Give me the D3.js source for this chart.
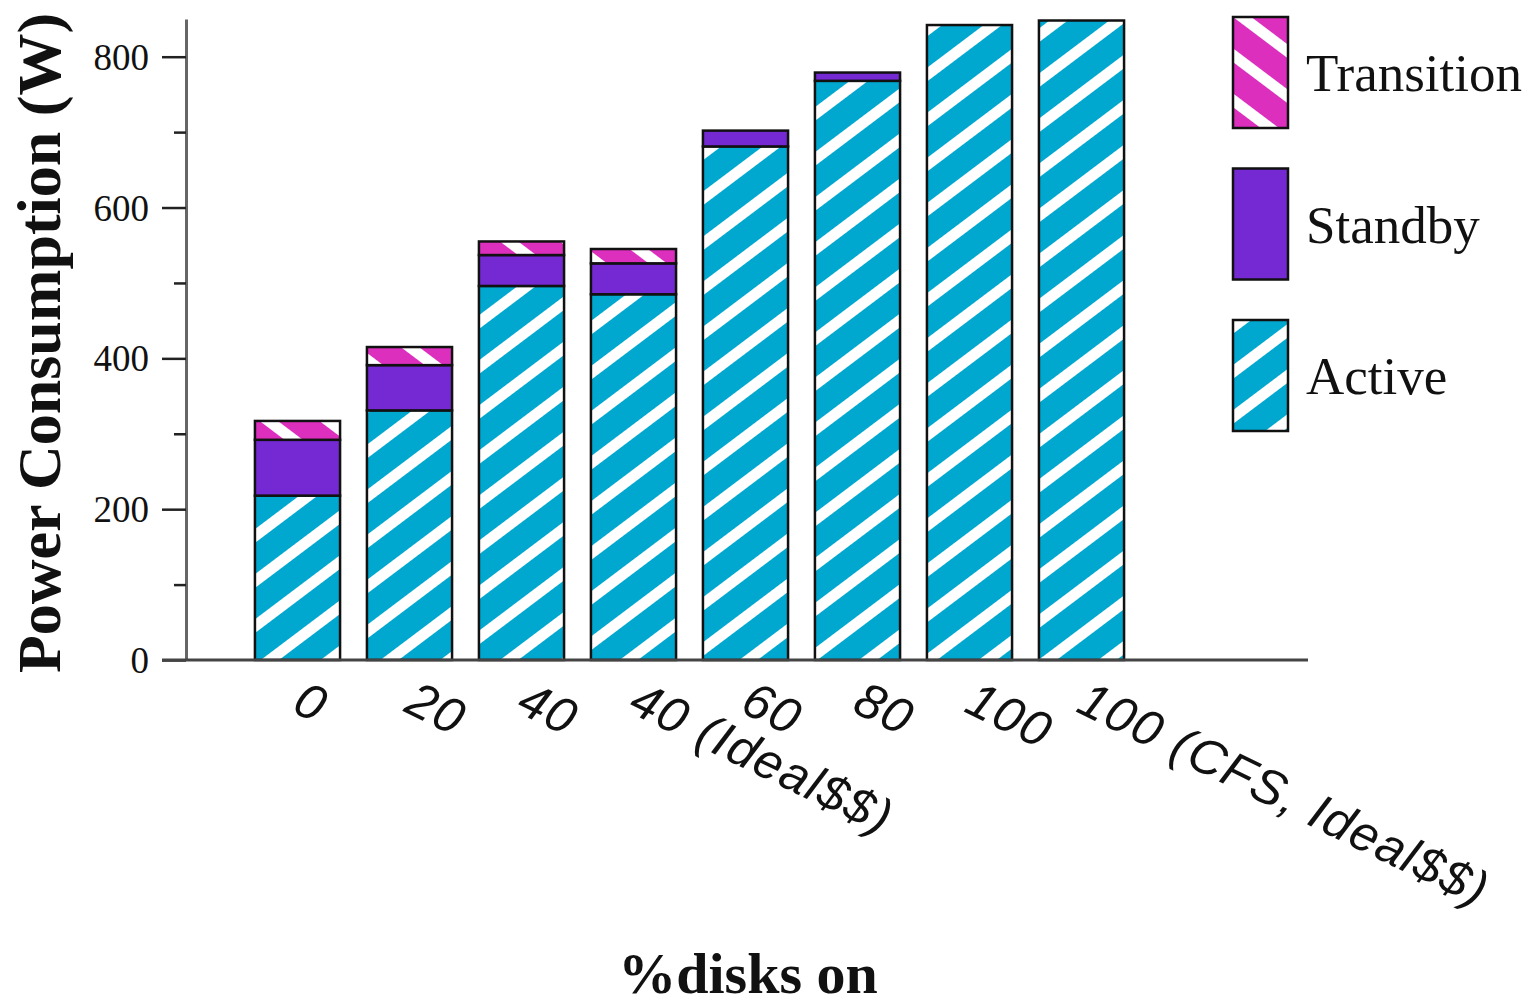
<!DOCTYPE html>
<html>
<head>
<meta charset="utf-8">
<script src="https://cdn.jsdelivr.net/npm/d3@7"></script>
<style>
  body { margin: 0; background: #fff; }
</style>
</head>
<body>
<div id="chart"></div>
<script>
// data
const categories = ["0", "20", "40", "40 (Ideal$$)", "60", "80", "100", "100 (CFS, Ideal$$)"];
const active = [218, 331, 496, 485, 681, 768, 842, 848];
const standby = [74, 60, 41, 41, 21, 11, 0, 0];
const transition = [25, 24, 18, 19, 0, 0, 0, 0];
const seriesNames = ["Active", "Standby", "Transition"];
const yMajorTicks = [0, 200, 400, 600, 800];
const yMinorTicks = [100, 300, 500, 700];

const W = 1530, H = 1005;
const fills = {
    "Active": "url(#pat-active)",
    "Standby": "#7429d2",
    "Transition": "url(#pat-transition)"
};

const svg = d3.select("#chart").append("svg")
    .attr("width", W)
    .attr("height", H);

// stripe patterns
const defs = svg.append("defs");
function stripes(id, color, angle) {
    const p = defs.append("pattern")
        .attr("id", id)
        .attr("patternUnits", "userSpaceOnUse")
        .attr("width", 36)
        .attr("height", 36)
        .attr("patternTransform", `rotate(${angle})`);
    p.append("rect").attr("width", 36).attr("height", 36).attr("fill", color);
    p.append("rect").attr("width", 11).attr("height", 36).attr("fill", "#fff");
}
stripes("pat-active", "#00a8cf", 53);
stripes("pat-transition", "#dc2fbe", -53);

const table = categories.map((c, i) => ({
    cat: c, Active: active[i], Standby: standby[i], Transition: transition[i]
}));
const stacked = d3.stack().keys(seriesNames)(table);

const x = d3.scaleBand()
    .domain(categories)
    .range([241.5, 1137.5])
    .paddingInner(0.24)
    .paddingOuter(0.12);

const y = d3.scaleLinear()
    .domain([0, 850])
    .range([660, 19]);

// y axis
const axisG = svg.append("g").attr("transform", "translate(186,0)");
axisG.append("g")
    .call(d3.axisLeft(y).tickValues(yMajorTicks).tickSize(24).tickSizeOuter(0).tickPadding(13))
    .call(g => g.selectAll("text")
        .attr("font-family", "'Liberation Serif', 'Times New Roman', serif")
        .attr("font-size", 37)
        .attr("fill", "#111")
        .attr("dy", "0.34em"))
    .call(g => g.selectAll(".tick line").attr("stroke", "#222").attr("stroke-width", 2.5))
    .call(g => g.select(".domain").attr("stroke", "#666").attr("stroke-width", 3));
axisG.append("g")
    .call(d3.axisLeft(y).tickValues(yMinorTicks).tickSize(12).tickSizeOuter(0).tickFormat(""))
    .call(g => g.select(".domain").remove())
    .call(g => g.selectAll(".tick line").attr("stroke", "#222").attr("stroke-width", 2.5));

// bars
const layers = svg.append("g").selectAll("g")
    .data(stacked)
    .enter().append("g")
    .attr("fill", d => fills[d.key]);
layers.selectAll("rect")
    .data(d => d.filter(s => s[1] - s[0] > 0))
    .enter().append("rect")
    .attr("x", d => x(d.data.cat))
    .attr("width", x.bandwidth())
    .attr("y", d => y(d[1]))
    .attr("height", d => y(d[0]) - y(d[1]))
    .attr("stroke", "#111")
    .attr("stroke-width", 2.5);

// x axis line
svg.append("line")
    .attr("x1", 162).attr("x2", 1308)
    .attr("y1", y(0)).attr("y2", y(0))
    .attr("stroke", "#444")
    .attr("stroke-width", 3);

// x tick labels, slanted
svg.append("g").selectAll("text")
    .data(categories)
    .enter().append("text")
    .attr("transform", d => `translate(${x(d) + x.bandwidth() / 2 - 7},711) rotate(26)`)
    .attr("font-family", "'Liberation Sans', Arial, sans-serif")
    .attr("font-style", "italic")
    .attr("font-size", 50)
    .attr("letter-spacing", 1.5)
    .attr("fill", "#111")
    .text(d => d);

// axis titles
svg.append("text")
    .attr("transform", "translate(60,343) rotate(-90)")
    .attr("text-anchor", "middle")
    .attr("font-family", "'Liberation Serif', 'Times New Roman', serif")
    .attr("font-weight", "bold")
    .attr("font-size", 62)
    .attr("fill", "#111")
    .text("Power Consumption (W)");

svg.append("text")
    .attr("x", 748)
    .attr("y", 993)
    .attr("text-anchor", "middle")
    .attr("font-family", "'Liberation Serif', 'Times New Roman', serif")
    .attr("font-weight", "bold")
    .attr("font-size", 58)
    .attr("fill", "#111")
    .text("%disks on");

// legend
const legendItems = ["Transition", "Standby", "Active"];
const legend = svg.append("g").selectAll("g")
    .data(legendItems)
    .enter().append("g")
    .attr("transform", (d, i) => `translate(1233,${17 + i * 151.5})`);
legend.append("rect")
    .attr("width", 55)
    .attr("height", 111)
    .attr("fill", d => fills[d])
    .attr("stroke", "#111")
    .attr("stroke-width", 2.5);
legend.append("text")
    .attr("x", 73)
    .attr("y", 74)
    .attr("font-family", "'Liberation Serif', 'Times New Roman', serif")
    .attr("font-size", 53)
    .attr("fill", "#111")
    .text(d => d);
</script>
</body>
</html>
